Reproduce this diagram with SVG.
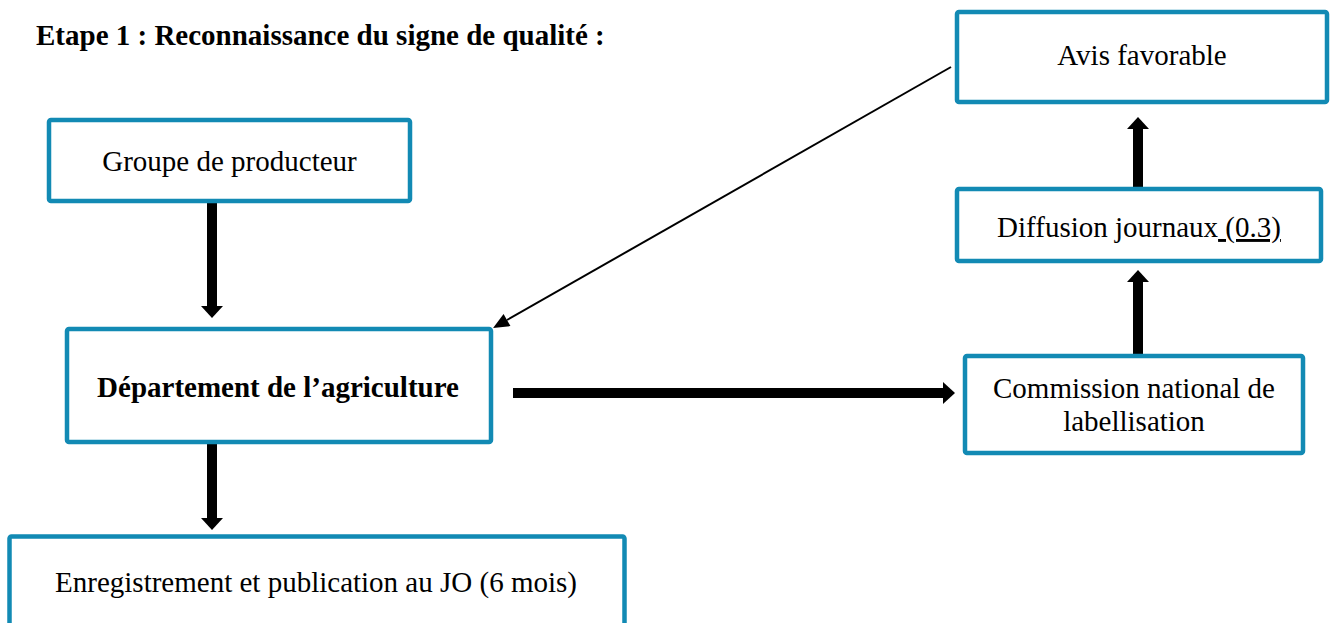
<svg xmlns="http://www.w3.org/2000/svg" width="1335" height="623" viewBox="0 0 1335 623">
<style>
.box{fill:#fff;stroke:#128ab4;stroke-width:4.5}
.t{font-family:"Liberation Serif","Times New Roman",serif;font-size:29px;fill:#000}
.c{text-anchor:middle}
.b{font-weight:bold}
.thick{stroke:#000;stroke-width:10;fill:none}
.thin{stroke:#000;stroke-width:2;fill:none}
</style>
<defs>
<marker id="hk" markerUnits="userSpaceOnUse" markerWidth="12" markerHeight="22" refX="0" refY="11" orient="auto" overflow="visible">
<path d="M0,0 L12,11 L0,22 z" fill="#000"/>
</marker>
<marker id="hn" markerUnits="userSpaceOnUse" markerWidth="16" markerHeight="14" refX="0" refY="7" orient="auto" overflow="visible">
<path d="M0,0 L16,7 L0,14 z" fill="#000"/>
</marker>
</defs>
<rect width="1335" height="623" fill="#fff"/>
<text class="t b" x="36" y="45">Etape 1 : Reconnaissance du signe de qualité :</text>
<g id="connectors">
<line class="thick" x1="212" y1="203" x2="212" y2="306" marker-end="url(#hk)"/>
<line class="thick" x1="212" y1="444" x2="212" y2="518" marker-end="url(#hk)"/>
<line class="thick" x1="513" y1="393" x2="943" y2="393" marker-end="url(#hk)"/>
<line class="thick" x1="1138" y1="356" x2="1138" y2="282" marker-end="url(#hk)"/>
<line class="thick" x1="1138" y1="189" x2="1138" y2="129" marker-end="url(#hk)"/>
<line class="thin" x1="951" y1="67" x2="507" y2="320" marker-end="url(#hn)"/>
</g>
<g id="groupe">
<rect class="box" x="49" y="120" width="361" height="81" rx="2"/>
<text class="t c" x="229.5" y="171">Groupe de producteur</text>
</g>
<g id="departement">
<rect class="box" x="67" y="329" width="424" height="113" rx="2"/>
<text class="t c b" x="278" y="397">Département de l’agriculture</text>
</g>
<g id="enregistrement">
<rect class="box" x="9.5" y="536.5" width="615" height="100" rx="2"/>
<text class="t c" x="316" y="592">Enregistrement et publication au JO (6 mois)</text>
</g>
<g id="commission">
<rect class="box" x="965" y="356" width="338" height="97" rx="2"/>
<text class="t c" x="1134" y="398">Commission national de</text>
<text class="t c" x="1134" y="431">labellisation</text>
</g>
<g id="diffusion">
<rect class="box" x="957" y="189" width="364" height="72" rx="2"/>
<text class="t c" x="1139" y="237">Diffusion journaux<tspan text-decoration="underline"> (0.3)</tspan></text>
</g>
<g id="avis">
<rect class="box" x="957" y="12" width="370" height="90" rx="2"/>
<text class="t c" x="1142" y="65">Avis favorable</text>
</g>
</svg>
